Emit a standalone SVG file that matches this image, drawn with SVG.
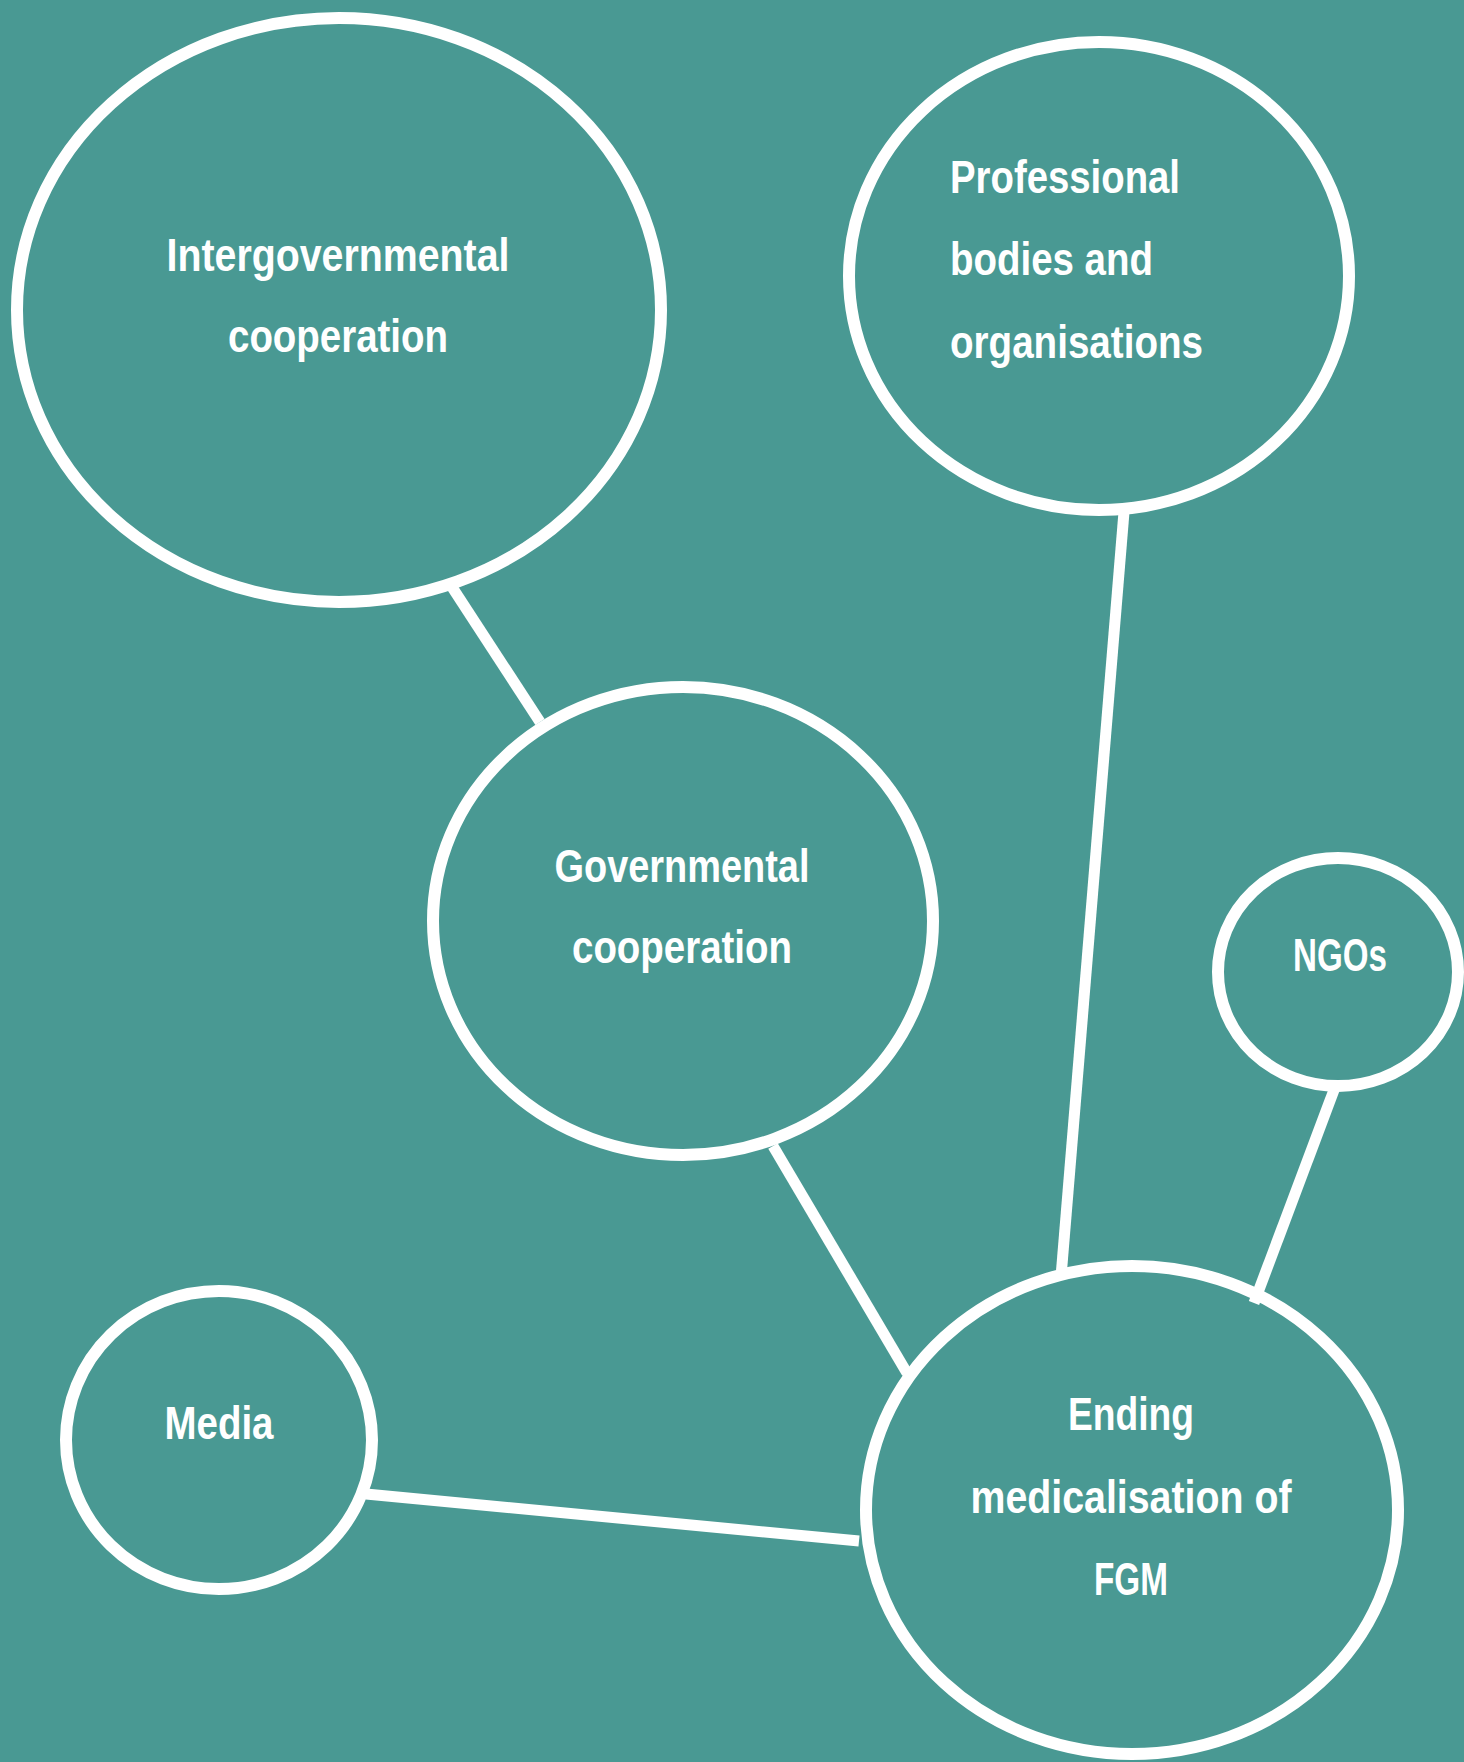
<svg xmlns="http://www.w3.org/2000/svg" width="1464" height="1762" viewBox="0 0 1464 1762">
<style>
.bg{fill:#499993}
.node ellipse{fill:#499993;stroke:#ffffff;stroke-width:12}
.edge line{stroke:#ffffff;stroke-width:11;stroke-linecap:butt}
.node text{fill:#ffffff;font-family:"Liberation Sans",Arial,sans-serif;font-weight:bold;font-size:46px}
.c{text-anchor:middle}
</style>
<rect class="bg" x="0" y="0" width="1464" height="1762"/>
<g id="n-intergovernmental" class="node">
<ellipse cx="339" cy="310" rx="322" ry="292"/>
<text class="c" x="338" y="271" textLength="343" lengthAdjust="spacingAndGlyphs">Intergovernmental</text>
<text class="c" x="338" y="352" textLength="220" lengthAdjust="spacingAndGlyphs">cooperation</text>
</g>
<g id="n-professional" class="node">
<ellipse cx="1099" cy="276" rx="250" ry="234"/>
<text x="950" y="193" textLength="230" lengthAdjust="spacingAndGlyphs">Professional</text>
<text x="950" y="275" textLength="203" lengthAdjust="spacingAndGlyphs">bodies and</text>
<text x="950" y="358" textLength="253" lengthAdjust="spacingAndGlyphs">organisations</text>
</g>
<g id="n-governmental" class="node">
<ellipse cx="683" cy="921" rx="250" ry="234"/>
<text class="c" x="682" y="882" textLength="255" lengthAdjust="spacingAndGlyphs">Governmental</text>
<text class="c" x="682" y="963" textLength="220" lengthAdjust="spacingAndGlyphs">cooperation</text>
</g>
<g id="n-ngos" class="node">
<ellipse cx="1338" cy="972" rx="120" ry="114"/>
<text class="c" x="1340" y="971" textLength="94" lengthAdjust="spacingAndGlyphs">NGOs</text>
</g>
<g id="n-media" class="node">
<ellipse cx="219" cy="1440" rx="153" ry="149"/>
<text class="c" x="219" y="1439" textLength="109" lengthAdjust="spacingAndGlyphs">Media</text>
</g>
<g id="n-ending" class="node">
<ellipse cx="1132" cy="1510" rx="266" ry="244"/>
<text class="c" x="1131" y="1430" textLength="126" lengthAdjust="spacingAndGlyphs">Ending</text>
<text class="c" x="1131" y="1513" textLength="321" lengthAdjust="spacingAndGlyphs">medicalisation of</text>
<text class="c" x="1131" y="1595" textLength="74" lengthAdjust="spacingAndGlyphs">FGM</text>
</g>
<g id="connectors" class="edge">
<line x1="452" y1="587" x2="540" y2="722"/>
<line x1="1124" y1="512" x2="1061" y2="1277"/>
<line x1="1334" y1="1090" x2="1254" y2="1303"/>
<line x1="773" y1="1146" x2="907" y2="1373"/>
<line x1="366" y1="1494" x2="859" y2="1541"/>
</g>
</svg>
